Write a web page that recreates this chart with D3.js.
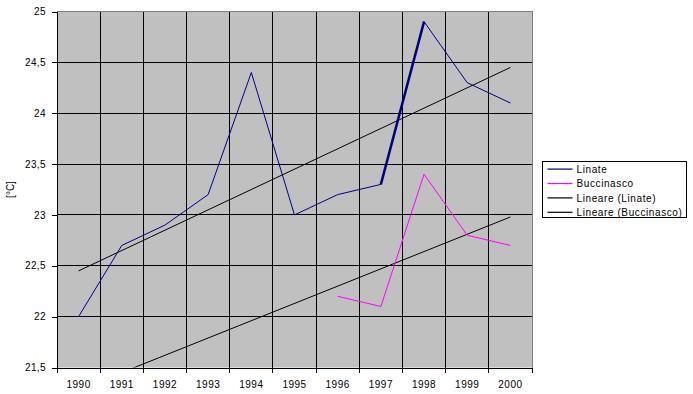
<!DOCTYPE html>
<html>
<head>
<meta charset="utf-8">
<script src="https://cdn.jsdelivr.net/npm/d3@7"></script>
<style>
  body { margin: 0; background: #fff; }
  text { font-family: Arial, "Liberation Sans", sans-serif; font-size: 10px; fill: #000; }
</style>
</head>
<body>
<div id="chart"></div>
<script>
// data
const years = ['1990', '1991', '1992', '1993', '1994', '1995', '1996', '1997', '1998', '1999', '2000'];
const linate = [22.0, 22.7, 22.9, 23.2, 24.4, 23.0, 23.2, 23.3, 24.9, 24.3, 24.1];
const buccinasco = [null, null, null, null, null, null, 22.2, 22.1, 23.4, 22.8, 22.7];
const trendLinate = [22.45, 24.45];       // value at 1990, value at 2000
const trendBuccinasco = [21.28, 22.98];   // value at 1990, value at 2000
const yTicks = [21.5, 22, 22.5, 23, 23.5, 24, 24.5, 25];
const legendItems = [
  {name: 'Linate', color: '#000080'},
  {name: 'Buccinasco', color: '#ff00ff'},
  {name: 'Lineare (Linate)', color: '#000000'},
  {name: 'Lineare (Buccinasco)', color: '#000000'}
];

const width = 693, height = 394;
const plot = {left: 57, right: 532, top: 11.5, bottom: 367.5};

const svg = d3.select('#chart').append('svg')
  .attr('width', width)
  .attr('height', height);

const x = d3.scaleBand().domain(years).range([plot.left, plot.right]);
const xc = d => x(d) + x.bandwidth() / 2;
const y = d3.scaleLinear().domain([21.5, 25]).range([plot.bottom, plot.top]);
const fmt = v => d3.format('')(v).replace('.', ',');

svg.append('defs').append('clipPath').attr('id', 'clip')
  .append('rect')
  .attr('x', plot.left).attr('y', plot.top)
  .attr('width', plot.right - plot.left).attr('height', plot.bottom - plot.top);

// plot area
svg.append('rect')
  .attr('x', plot.left).attr('y', plot.top)
  .attr('width', plot.right - plot.left).attr('height', plot.bottom - plot.top)
  .attr('fill', '#c0c0c0');

// grid
const grid = svg.append('g').attr('shape-rendering', 'crispEdges');
grid.selectAll('.hgrid')
  .data(yTicks.filter(d => d > 21.5 && d < 25))
  .enter().append('line')
  .attr('x1', plot.left).attr('x2', plot.right)
  .attr('y1', d => y(d)).attr('y2', d => y(d))
  .attr('stroke', '#000');
grid.selectAll('.vgrid')
  .data(years.slice(1))
  .enter().append('line')
  .attr('x1', d => x(d)).attr('x2', d => x(d))
  .attr('y1', plot.top).attr('y2', plot.bottom)
  .attr('stroke', '#000');

// gray border top/right
grid.append('path')
  .attr('d', `M${plot.left},${plot.top}H${plot.right}V${plot.bottom}`)
  .attr('fill', 'none').attr('stroke', '#808080');

// y axis
const yAxis = svg.append('g')
  .attr('transform', `translate(${plot.left},0)`)
  .call(d3.axisLeft(y).tickValues(yTicks).tickFormat(fmt).tickSize(5).tickPadding(6));
yAxis.selectAll('path, line').attr('stroke', '#000').attr('shape-rendering', 'crispEdges');
yAxis.selectAll('text')
  .style('font-size', '10px')
  .style('letter-spacing', '0.4px')
  .style('font-family', 'Arial, "Liberation Sans", sans-serif');

// x axis with ticks on category boundaries
const xAxis = svg.append('g')
  .attr('transform', `translate(0,${plot.bottom})`)
  .call(d3.axisBottom(x).tickSizeOuter(0).tickSize(0).tickPadding(13));
xAxis.select('.domain').attr('stroke', '#000').attr('shape-rendering', 'crispEdges');
xAxis.selectAll('text')
  .style('font-size', '10px')
  .style('letter-spacing', '0.5px')
  .style('font-family', 'Arial, "Liberation Sans", sans-serif');
xAxis.selectAll('.bound')
  .data(years.map(d => x(d)).concat([plot.right]))
  .enter().append('line')
  .attr('x1', d => d).attr('x2', d => d)
  .attr('y1', 0).attr('y2', 5)
  .attr('stroke', '#000').attr('shape-rendering', 'crispEdges');

// y label
svg.append('text')
  .attr('transform', `translate(14,${(plot.top + plot.bottom) / 2}) rotate(-90)`)
  .attr('text-anchor', 'middle')
  .text('[°C]');

// series
const marks = svg.append('g').attr('clip-path', 'url(#clip)');
const line = d3.line()
  .defined(d => d.v != null)
  .x(d => xc(d.year))
  .y(d => y(d.v));

const trend = (vals) => [
  {year: years[0], v: vals[0]},
  {year: years[years.length - 1], v: vals[1]}
];

marks.append('path')
  .attr('d', line(trend(trendLinate)))
  .attr('fill', 'none').attr('stroke', '#000').attr('stroke-width', 1);
marks.append('path')
  .attr('d', line(trend(trendBuccinasco)))
  .attr('fill', 'none').attr('stroke', '#000').attr('stroke-width', 1);

const linData = years.map((yr, i) => ({year: yr, v: linate[i]}));
const bucData = years.map((yr, i) => ({year: yr, v: buccinasco[i]}));

marks.append('path')
  .attr('d', line(bucData))
  .attr('fill', 'none').attr('stroke', '#ff00ff').attr('stroke-width', 1);
marks.append('path')
  .attr('d', line(linData))
  .attr('fill', 'none').attr('stroke', '#000080').attr('stroke-width', 1);
// the 1997-1998 segment is drawn heavier in the original
marks.append('path')
  .attr('d', line(linData.filter(d => d.year === '1997' || d.year === '1998')))
  .attr('fill', 'none').attr('stroke', '#000080').attr('stroke-width', 2.5);

// legend
const legend = svg.append('g').attr('transform', 'translate(542.5,161.5)');
legend.append('rect')
  .attr('width', 144).attr('height', 56)
  .attr('fill', '#fff').attr('stroke', '#000').attr('shape-rendering', 'crispEdges');
const rows = legend.selectAll('.row')
  .data(legendItems)
  .enter().append('g')
  .attr('transform', (d, i) => `translate(0,${7.5 + i * 14.4})`);
rows.append('rect')
  .attr('x', 5).attr('y', -0.5)
  .attr('width', 25).attr('height', 1.2)
  .style('fill', d => d.color);
rows.append('text')
  .attr('x', 34).attr('y', 4)
  .style('letter-spacing', '0.6px')
  .text(d => d.name);
</script>
</body>
</html>
